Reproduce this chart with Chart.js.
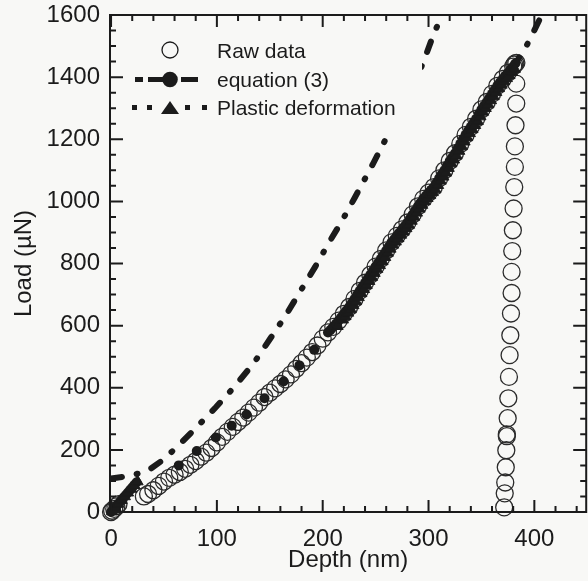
<!DOCTYPE html>
<html>
<head>
<meta charset="utf-8">
<script src="https://cdn.jsdelivr.net/npm/chart.js@4.4.0/dist/chart.umd.min.js"></script>
<style>
html, body { margin: 0; padding: 0; overflow: hidden; background: #f8f8f6; }
#wrap { width: 596px; height: 581px; }
</style>
</head>
<body>
<div id="wrap"><canvas id="load_chart" width="596" height="581"></canvas></div>
<script>
// tick labels
const depthTicks = [0, 100, 200, 300, 400];
const loadTicks = [0, 200, 400, 600, 800, 1000, 1200, 1400, 1600];

// raw data - loading
const rawLoadDepth = [0, 1, 3, 5, 7, 31, 35, 40, 45, 50, 55, 60, 65, 70, 75, 80, 85, 90, 95, 100,
  105, 110, 115, 120, 125, 130, 135, 140, 145, 150, 155, 160, 165, 170, 175, 180, 185, 190, 195, 200,
  205, 210, 215, 220, 225, 230, 235, 240, 245, 250, 255, 260, 265, 270, 275, 280, 285, 290, 295, 300,
  305, 310, 315, 320, 325, 330, 335, 340, 345, 350, 355, 360, 365, 370, 375, 380, 381, 382, 383];
const rawLoadForce = [0, 4, 10, 18, 25, 50, 58, 70, 84, 98, 110, 120, 129, 139, 152, 164, 178, 191, 206, 224,
  242, 258, 274, 290, 304, 320, 336, 352, 370, 384, 398, 412, 427, 443, 461, 479, 497, 515, 536, 558,
  578, 596, 616, 638, 660, 686, 712, 738, 764, 790, 815, 842, 868, 889, 910, 932, 958, 984, 1008, 1028,
  1046, 1074, 1100, 1130, 1155, 1185, 1214, 1240, 1266, 1296, 1320, 1346, 1372, 1394, 1414, 1434, 1440, 1444, 1446];

// raw data - unloading
const rawUnloadDepth = [382.9, 382.9, 382.2, 381.6, 381.6, 381, 380.4, 379.7, 379.1, 378.5, 378.5, 377.9,
  377.3, 376.6, 376, 375.4, 374.8, 374, 374, 373.5, 373, 372.5, 372, 371.5];
const rawUnloadForce = [1379, 1315, 1245, 1177, 1111, 1046, 977, 907, 840, 773, 705, 639,
  569, 505, 435, 366, 302, 250, 244, 199, 144, 95, 60, 15];

// equation (3)
const eqDepth = [0, 2, 4, 6, 8, 10, 12, 14, 16, 18, 20, 22, 24, 64, 81, 99, 114, 128, 145, 163, 178, 192,
  205, 207.5, 210, 212.5, 215, 217.5, 220, 222.5, 225, 227.5, 230, 232.5, 235, 237.5, 240, 242.5, 245, 247.5,
  250, 252.5, 255, 257.5, 260, 262.5, 265, 267.5, 270, 272.5, 275, 277.5, 280, 282.5, 285, 287.5, 290, 292.5,
  295, 297.5, 300, 302.5, 305, 307.5, 310, 312.5, 315, 317.5, 320, 322.5, 325, 327.5, 330, 332.5, 335, 337.5,
  340, 342.5, 345, 347.5, 350, 352.5, 355, 357.5, 360, 362.5, 365, 367.5, 370, 372.5, 375, 377.5, 380,
  382, 391, 399, 407];
const eqLoad = [0, 7, 15, 23, 31, 39, 47, 55, 63, 71, 79, 87, 95, 150, 196, 240, 278, 314, 366, 420, 472, 522,
  578, 587, 596, 606, 616, 627, 638, 649, 660, 673, 686, 699, 712, 725, 738, 751, 764, 777,
  790, 802, 815, 828, 842, 855, 868, 878, 889, 900, 910, 921, 932, 945, 958, 971, 984, 996,
  1008, 1018, 1028, 1037, 1046, 1060, 1074, 1087, 1100, 1115, 1130, 1142, 1155, 1170, 1185, 1200, 1214, 1227,
  1240, 1253, 1266, 1281, 1296, 1308, 1320, 1333, 1346, 1359, 1372, 1383, 1394, 1404, 1414, 1424, 1434,
  1444, 1490, 1544, 1600];

// steeper dash-dot curve (no legend entry)
const steepDepth = [0, 16, 34, 50, 66, 80, 99, 117, 135, 150, 166, 178, 193, 205, 218, 230, 248, 261, 275, 289, 297, 305, 313];
const steepLoad = [108, 115, 131, 170, 222, 270, 337, 405, 480, 556, 638, 706, 790, 862, 936, 1010, 1124, 1210, 1300, 1396, 1466, 1540, 1600];

// plastic deformation
const plasticDepth = [1, 4, 7, 10, 13, 16, 19, 22, 25,
  214, 219, 221.5, 224, 226.5, 229, 231.5, 234, 236.5, 239, 241.5, 244, 246.5, 249, 251.5,
  254, 256.5, 259, 261.5, 264, 266.5, 269, 271.5, 274, 276.5, 279, 281.5, 284, 286.5, 289, 291.5, 294, 296.5,
  299, 301.5, 304, 306.5, 309, 311.5, 314, 316.5, 319, 321.5, 324, 326.5, 329, 331.5, 334, 336.5, 339, 341.5,
  344, 346.5, 349, 351.5, 354, 356.5, 359, 361.5, 364, 366.5, 369, 371.5, 374, 376.5, 379, 381.5, 384];
const plasticLoad = [2, 14, 26, 38, 50, 62, 74, 86, 98,
  598, 619, 630, 641, 652, 665, 678, 691, 704, 717, 730, 743, 756, 769,
  782, 794, 807, 820, 834, 847, 860, 870, 881, 892, 902, 913, 924, 937, 950, 963, 976, 988,
  1000, 1010, 1020, 1029, 1038, 1052, 1066, 1079, 1092, 1107, 1122, 1134, 1147, 1162, 1177, 1192, 1206, 1219,
  1232, 1245, 1258, 1273, 1288, 1300, 1312, 1325, 1338, 1351, 1364, 1375, 1386, 1396, 1406, 1416, 1426];

const FONT = '"Liberation Sans", Arial, Helvetica, sans-serif';
const INK = '#1b1b1b';
const PAPER = '#f8f8f6';

const zip = (xs, ys) => xs.map((x, i) => ({x: x, y: ys[i]}));

// frame with inward ticks on all four sides
const framePlugin = {
    id: 'frame',
    afterDatasetsDraw(chart) {
        const {ctx, chartArea: a, scales: {x, y}} = chart;
        ctx.save();
        ctx.strokeStyle = INK;
        ctx.lineWidth = 2;
        ctx.strokeRect(a.left, a.top, a.right - a.left, a.bottom - a.top);
        ctx.beginPath();
        for (let v = 0; v <= 440; v += 20) {
            const px = x.getPixelForValue(v);
            const len = v % 100 === 0 ? 12 : 6;
            ctx.moveTo(px, a.bottom); ctx.lineTo(px, a.bottom - len);
            ctx.moveTo(px, a.top); ctx.lineTo(px, a.top + len);
        }
        for (let v = 0; v <= 1600; v += 50) {
            const py = y.getPixelForValue(v);
            const len = v % 200 === 0 ? 13 : 6;
            ctx.moveTo(a.left, py); ctx.lineTo(a.left + len, py);
            ctx.moveTo(a.right, py); ctx.lineTo(a.right - len, py);
        }
        ctx.stroke();
        ctx.restore();
    }
};

// legend in the upper left corner, opaque so it hides the curve behind it
const legendPlugin = {
    id: 'legendBox',
    afterDatasetsDraw(chart) {
        const c = chart.ctx;
        const labels = chart.data.datasets.map(d => d.label);
        c.save();
        c.fillStyle = PAPER;
        c.fillRect(122, 30, 300, 106);
        c.fillStyle = INK;
        c.strokeStyle = INK;

        c.lineWidth = 1.3;
        c.beginPath(); c.arc(170, 50, 8, 0, Math.PI * 2); c.stroke();

        c.fillRect(135, 77, 8, 5);
        c.fillRect(148, 77, 16, 5);
        c.beginPath(); c.arc(170, 79.5, 7.8, 0, Math.PI * 2); c.fill();
        c.fillRect(181, 77, 17, 5);

        [132, 147, 185, 202].forEach(x0 => c.fillRect(x0, 105, 5, 5));
        c.beginPath(); c.moveTo(161, 114); c.lineTo(179, 114); c.lineTo(170, 101); c.closePath(); c.fill();

        c.font = '21px ' + FONT;
        c.textAlign = 'left';
        c.textBaseline = 'alphabetic';
        c.fillText(labels[3], 217, 58);
        c.fillText(labels[2], 217, 86.5);
        c.fillText(labels[1], 217, 115);
        c.restore();
    }
};

const ctx = document.getElementById('load_chart');

const chart_data = {
    datasets: [
        {
            label: 'steep curve',
            data: zip(steepDepth, steepLoad),
            showLine: true,
            borderColor: INK,
            borderWidth: 6,
            borderDash: [11, 15, 1, 15],
            borderCapStyle: 'round',
            pointRadius: 0
        },
        {
            label: 'Plastic deformation',
            data: zip(plasticDepth, plasticLoad),
            showLine: true,
            borderColor: INK,
            borderWidth: 4,
            borderDash: [4, 8],
            pointStyle: 'triangle',
            pointRadius: 6.5,
            pointBackgroundColor: INK,
            pointBorderColor: INK,
            pointBorderWidth: 1,
            clip: false,
            segment: {
                borderColor: s => (s.p1.parsed.x - s.p0.parsed.x > 20 ? 'transparent' : INK)
            }
        },
        {
            label: 'equation (3)',
            data: zip(eqDepth, eqLoad),
            showLine: true,
            borderColor: INK,
            borderWidth: 6,
            borderDash: [11, 15, 1, 15],
            borderCapStyle: 'round',
            pointRadius: c => (c.raw && c.raw.x > 385 ? 0 : 5),
            pointBackgroundColor: INK,
            pointBorderColor: INK,
            pointBorderWidth: 0,
            clip: false,
            segment: {
                borderColor: s => (s.p0.parsed.x >= 380 ? INK : 'transparent')
            }
        },
        {
            label: 'Raw data',
            data: zip(rawLoadDepth, rawLoadForce).concat(zip(rawUnloadDepth, rawUnloadForce)),
            showLine: false,
            pointStyle: 'circle',
            pointRadius: 8.5,
            pointBorderWidth: 1.3,
            pointBorderColor: '#2b2b2b',
            pointBackgroundColor: 'rgba(0,0,0,0)',
            clip: false
        }
    ]
};

const config = {
    type: 'scatter',
    data: chart_data,
    options: {
        responsive: false,
        animation: false,
        layout: { padding: { top: 15, right: 5, left: 0, bottom: 0 } },
        plugins: {
            legend: { display: false },
            tooltip: { enabled: false }
        },
        scales: {
            x: {
                type: 'linear',
                min: -1,
                max: 449,
                afterBuildTicks: s => { s.ticks = depthTicks.map(v => ({value: v})); },
                afterFit: s => { s.height = 69; s.paddingLeft = 0; s.paddingRight = 0; },
                grid: { display: false, drawTicks: false },
                border: { display: false },
                ticks: { font: { family: FONT, size: 24 }, color: INK, padding: 13, maxRotation: 0, autoSkip: false, callback: v => String(v) },
                title: { display: true, text: 'Depth (nm)', font: { family: FONT, size: 24 }, color: INK, padding: { top: 0, bottom: 6 } }
            },
            y: {
                type: 'linear',
                min: 0,
                max: 1600,
                afterBuildTicks: s => { s.ticks = loadTicks.map(v => ({value: v})); },
                afterFit: s => { s.width = 110; s.paddingTop = 0; s.paddingBottom = 0; },
                grid: { display: false, drawTicks: false },
                border: { display: false },
                ticks: { font: { family: FONT, size: 24 }, color: INK, padding: 10, autoSkip: false, callback: v => String(v) },
                title: { display: true, text: 'Load (µN)', font: { family: FONT, size: 24 }, color: INK, padding: { top: 10, bottom: 0 } }
            }
        }
    },
    plugins: [legendPlugin, framePlugin]
};

const chart = new Chart(ctx, config);
</script>
</body>
</html>
